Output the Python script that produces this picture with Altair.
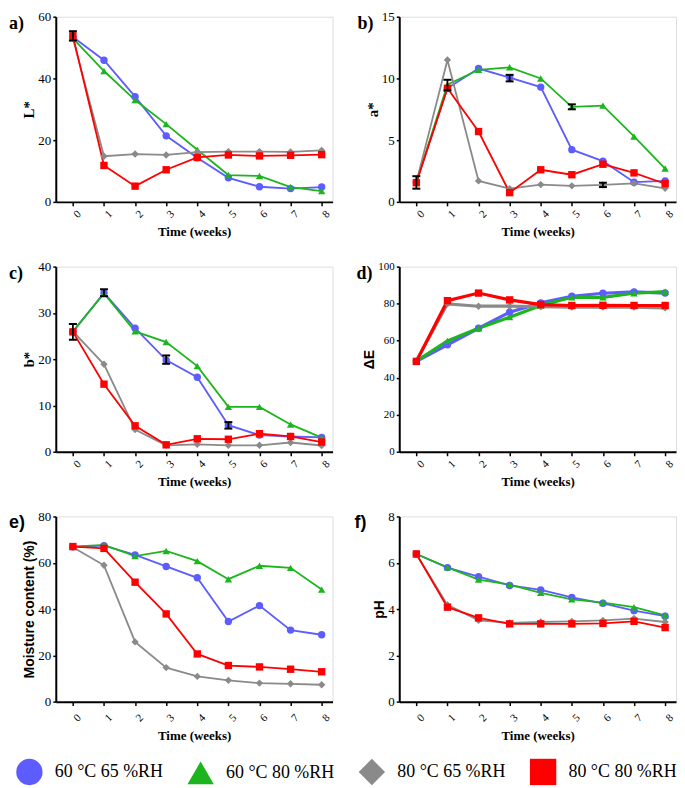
import altair as alt
import pandas as pd

weeks = list(range(9))
series = ["60 °C 65 %RH", "60 °C 80 %RH", "80 °C 65 %RH", "80 °C 80 %RH"]
colors = ["#5C5CFF", "#1DB51D", "#8A8A8A", "#FF0000"]
shapes = ["circle", "triangle-up", "diamond", "square"]

# a) L*
L_6065 = [53.4, 45.9, 34.1, 21.4, 14.3, 7.8, 4.9, 4.3, 4.8]
L_6080 = [53.0, 42.4, 33.0, 25.2, 16.9, 8.7, 8.4, 4.8, 3.5]
L_8065 = [53.0, 14.8, 15.5, 15.2, 16.1, 16.3, 16.3, 16.2, 16.7]
L_8080 = [53.8, 11.8, 5.1, 10.4, 14.4, 15.2, 14.9, 15.1, 15.3]
# b) a*
A_6065 = [1.6, 9.2, 10.8, 10.07, 9.3, 4.23, 3.3, 1.6, 1.7]
A_6080 = [1.6, 9.5, 10.7, 10.9, 10.0, 7.7, 7.8, 5.3, 2.7]
A_8065 = [1.6, 11.5, 1.7, 1.07, 1.4, 1.3, 1.37, 1.5, 1.1]
A_8080 = [1.55, 9.2, 5.7, 0.75, 2.6, 2.2, 3.05, 2.35, 1.47]
# c) b*
B_6065 = [25.9, 34.3, 26.7, 19.8, 16.1, 5.75, 3.6, 3.3, 3.1]
B_6080 = [26.0, 34.2, 26.0, 23.7, 18.5, 9.7, 9.7, 5.9, 3.05]
B_8065 = [26.0, 18.9, 4.8, 1.4, 1.6, 1.4, 1.4, 2.0, 1.35]
B_8080 = [25.9, 14.6, 5.6, 1.5, 2.8, 2.7, 3.9, 3.3, 2.1]
# d) Delta E
E_6065 = [48.8, 57.8, 66.7, 75.4, 80.4, 84.0, 85.6, 86.3, 85.7]
E_6080 = [49.0, 59.9, 66.7, 72.7, 79.0, 83.4, 83.4, 85.6, 86.5]
E_8065 = [49.0, 79.9, 78.6, 78.6, 78.3, 78.1, 78.1, 78.1, 77.7]
E_8080 = [48.8, 81.6, 85.7, 82.0, 79.5, 79.0, 79.1, 79.0, 79.0]
# e) Moisture content
M_6065 = [66.9, 67.4, 63.4, 58.4, 53.5, 34.6, 41.5, 30.9, 28.9]
M_6080 = [67.0, 67.7, 62.9, 65.1, 60.7, 52.9, 58.7, 57.8, 48.4]
M_8065 = [66.7, 58.9, 25.8, 14.7, 10.9, 9.2, 8.0, 7.7, 7.3]
M_8080 = [67.0, 66.2, 51.6, 37.9, 20.6, 15.6, 15.0, 14.0, 12.9]
# f) pH
P_6065 = [6.38, 5.79, 5.40, 5.02, 4.83, 4.50, 4.25, 3.93, 3.69]
P_6080 = [6.38, 5.80, 5.27, 5.06, 4.70, 4.42, 4.28, 4.08, 3.73]
P_8065 = [6.38, 4.18, 3.51, 3.40, 3.44, 3.47, 3.51, 3.59, 3.44]
P_8080 = [6.38, 4.08, 3.62, 3.36, 3.36, 3.36, 3.38, 3.47, 3.20]

# error bars (panel, week, low, high)
err_panel = ["a", "b", "b", "b", "b", "b", "c", "c", "c", "c"]
err_week = [0, 0, 1, 3, 5, 6, 0, 1, 3, 5]
err_lo = [52.3, 1.07, 9.04, 9.76, 7.5, 1.2, 24.2, 33.6, 19.0, 5.0]
err_hi = [55.3, 2.08, 9.89, 10.29, 7.9, 1.55, 27.6, 35.1, 20.8, 6.4]

SERIF = "Liberation Serif"
SANS = "Liberation Sans"
W, H = 278, 186

LEG = alt.Legend(title=None, orient="none", legendX=-40, legendY=745,
                 direction="horizontal", symbolSize=700, symbolStrokeWidth=0,
                 labelFont=SERIF, labelFontSize=18, labelColor="black",
                 columnPadding=24, labelOffset=12, symbolOpacity=1)


def panel(key, label, label_font, vals, ymax, ystep, ytitle, tfont, tsize,
          lsize=13, sw=1.8, lab_x=-47, x_lpad=4, x_tpad=6):
    rows = []
    for s, v in zip(series, vals):
        for w, y in zip(weeks, v):
            rows.append({"week": w, "value": y, "series": s})
    df = pd.DataFrame(rows)
    xs = alt.Scale(domain=[-0.55, 8.35], nice=False)
    ys = alt.Scale(domain=[0, ymax], nice=False)
    xa = alt.Axis(values=weeks, title="Time (weeks)", grid=False,
                  labelAngle=-45, labelAlign="center", labelBaseline="top",
                  labelOverlap=False, labelFlush=False, tickCount=9,
                  labelFont=SERIF, labelFontSize=11, labelColor="black",
                  labelPadding=x_lpad, tickSize=4, tickWidth=1.5,
                  tickColor="black", domainColor="black", domainWidth=2,
                  titleFont=SERIF, titleFontSize=13, titleFontWeight="bold",
                  titleColor="black", titlePadding=x_tpad)
    yvals = list(range(0, ymax + 1, ystep))
    ya = alt.Axis(values=yvals, title=ytitle, grid=False,
                  labelOverlap=False, labelFlush=False, tickCount=len(yvals),
                  labelFont=SERIF, labelFontSize=lsize, labelColor="black",
                  labelPadding=2, tickSize=3, tickWidth=1.5, tickColor="black",
                  domainColor="black", domainWidth=2,
                  titleFont=tfont, titleFontSize=tsize, titleFontWeight="bold",
                  titleColor="black", titlePadding=1)
    X = alt.X("week:Q", scale=xs, axis=xa)
    col = alt.Color("series:N", scale=alt.Scale(domain=series, range=colors), legend=LEG)
    shp = alt.Shape("series:N", scale=alt.Scale(domain=series, range=shapes), legend=LEG)
    base = alt.Chart(df)
    lines = base.mark_line(strokeWidth=sw).encode(
        x=X, y=alt.Y("value:Q", scale=ys, axis=ya),
        color=col, detail="series:N")
    pts = base.mark_point(filled=True, size=55, opacity=1).encode(
        x=X, y=alt.Y("value:Q", scale=ys, axis=ya),
        color=col, shape=shp)
    layers = [lines, pts]
    edf = pd.DataFrame({"p": err_panel, "week": err_week, "lo": err_lo, "hi": err_hi})
    edf = edf[edf["p"] == key]
    if len(edf):
        eb = alt.Chart(edf)
        layers.append(eb.mark_rule(color="black", strokeWidth=1.8).encode(
            x=X, y=alt.Y("lo:Q", scale=ys, axis=ya), y2="hi:Q"))
        layers.append(eb.mark_tick(orient="horizontal", color="black", size=8,
                                   thickness=2, opacity=1).encode(
            x=X, y=alt.Y("lo:Q", scale=ys, axis=ya)))
        layers.append(eb.mark_tick(orient="horizontal", color="black", size=8,
                                   thickness=2, opacity=1).encode(
            x=X, y=alt.Y("hi:Q", scale=ys, axis=ya)))
    lab = alt.Chart(pd.DataFrame({"t": [label]})).mark_text(
        font=label_font, fontSize=18, fontWeight="bold", align="left",
        baseline="top", color="black").encode(
        text="t:N", x=alt.value(lab_x), y=alt.value(-2))
    layers.append(lab)
    return alt.layer(*layers).properties(width=W, height=H)


pa = panel("a", "a)", SERIF, [L_6065, L_6080, L_8065, L_8080], 60, 20, "L*", SERIF, 15, lab_x=-47)
pb = panel("b", "b)", SERIF, [A_6065, A_6080, A_8065, A_8080], 15, 5, "a*", SERIF, 15, lab_x=-42)
pc = panel("c", "c)", SERIF, [B_6065, B_6080, B_8065, B_8080], 40, 10, "b*", SERIF, 15, lab_x=-47)
pd_ = panel("d", "d)", SERIF, [E_6065, E_6080, E_8065, E_8080], 100, 20, "ΔE", SANS, 14,
            lsize=11, sw=3.2, lab_x=-43)
pe = panel("e", "e)", SANS, [M_6065, M_6080, M_8065, M_8080], 80, 20,
           "Moisture content (%)", SANS, 14, lab_x=-47, x_lpad=8, x_tpad=6)
pf = panel("f", "f)", SANS, [P_6065, P_6080, P_8065, P_8080], 8, 2, "pH", SANS, 14,
           lab_x=-45, x_lpad=8, x_tpad=6)

chart = alt.concat(pa, pb, pc, pd_, pe, pf, columns=2, bounds="flush",
                   spacing={"row": 65, "column": 67}).properties(
    padding={"left": 0, "top": 0, "right": 0, "bottom": 0}
).configure_view(stroke=None).configure_axis(
    labelOverlap=False, labelFlush=False
).configure(background="white")

chart.save("out.html", embed_options={"renderer": "svg", "actions": False})
